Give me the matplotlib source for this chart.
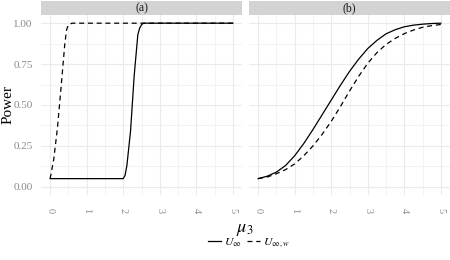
import matplotlib
matplotlib.use("Agg")
import matplotlib.pyplot as plt
from matplotlib.lines import Line2D
from matplotlib.ticker import MultipleLocator, FormatStrFormatter

# panel (a): abrupt jumps
mu_a_solid = [0.0, 2.0, 2.05, 2.1, 2.2, 2.3, 2.4, 2.45, 2.5, 2.55, 5.0]
pow_a_solid = [0.05, 0.05, 0.07, 0.13, 0.34, 0.68, 0.93, 0.97, 0.99, 1.0, 1.0]
mu_a_dash = [0.0, 0.1, 0.2, 0.3, 0.4, 0.45, 0.5, 0.6, 5.0]
pow_a_dash = [0.05, 0.17, 0.36, 0.61, 0.87, 0.96, 0.99, 1.0, 1.0]

# panel (b): smooth power curves
mu_b = [0.0, 0.25, 0.5, 0.75, 1.0, 1.25, 1.5, 1.75, 2.0, 2.25, 2.5,
        2.75, 3.0, 3.25, 3.5, 3.75, 4.0, 4.25, 4.5, 4.75, 5.0]
pow_b_solid = [0.05, 0.065, 0.09, 0.13, 0.19, 0.265, 0.35, 0.44, 0.53, 0.62, 0.705,
               0.78, 0.845, 0.895, 0.935, 0.96, 0.978, 0.988, 0.994, 0.998, 1.0]
pow_b_dash = [0.05, 0.06, 0.08, 0.105, 0.14, 0.19, 0.25, 0.32, 0.40, 0.49, 0.585,
              0.675, 0.755, 0.82, 0.87, 0.907, 0.936, 0.958, 0.975, 0.985, 0.992]

panel_titles = ["(a)", "(b)"]
legend_labels = [r"$U_\infty$", r"$U_{\infty,w}$"]

plt.rcParams["font.family"] = ["Liberation Serif", "DejaVu Serif"]
plt.rcParams["mathtext.fontset"] = "stix"

W, H = 450, 260
fig = plt.figure(figsize=(4.5, 2.6), dpi=100)

panels = [(41, 242), (249, 450)]
top_px, bot_px = 15, 195
tick_grey = "#8a8a8a"
grid_c = "#ebebeb"
dash_style = (0, (4, 3))

data = [
    ((mu_a_solid, pow_a_solid), (mu_a_dash, pow_a_dash)),
    ((mu_b, pow_b_solid), (mu_b, pow_b_dash)),
]

for i, ((x0, x1), title) in enumerate(zip(panels, panel_titles)):
    ax = fig.add_axes([x0 / W, 1 - bot_px / H, (x1 - x0) / W, (bot_px - top_px) / H])
    (xs, ys), (xd, yd) = data[i]
    ax.plot(xs, ys, color="black", lw=0.9)
    ax.plot(xd, yd, color="black", lw=0.9, linestyle=dash_style)

    ax.set_xlim(-0.25, 5.25)
    ax.set_ylim(-0.05, 1.05)
    ax.xaxis.set_major_locator(MultipleLocator(1))
    ax.xaxis.set_minor_locator(MultipleLocator(0.5))
    ax.yaxis.set_major_locator(MultipleLocator(0.25))
    ax.yaxis.set_minor_locator(MultipleLocator(0.125))
    ax.yaxis.set_major_formatter(FormatStrFormatter("%.2f"))
    ax.grid(which="major", color=grid_c, lw=0.8)
    ax.grid(which="minor", color=grid_c, lw=0.4)
    ax.set_axisbelow(True)
    for s in ax.spines.values():
        s.set_visible(False)
    ax.tick_params(which="both", length=0)
    ax.tick_params(axis="x", labelsize=7.5, labelcolor=tick_grey, pad=9, labelrotation=-90)
    ax.tick_params(axis="y", labelsize=8, labelcolor=tick_grey, pad=6)
    if i == 1:
        ax.tick_params(axis="y", labelleft=False)

    # facet strip
    sx = fig.add_axes([x0 / W, 1 - top_px / H, (x1 - x0) / W, (top_px - 1) / H])
    sx.set_facecolor("#d3d3d3")
    sx.set_xticks([])
    sx.set_yticks([])
    for s in sx.spines.values():
        s.set_visible(False)
    sx.text(0.5, 0.5, title, ha="center", va="center", fontsize=8.5, color="#1a1a1a",
            transform=sx.transAxes)

fig.text(8 / W, 1 - 105 / H, "Power", rotation=90, ha="center", va="center", fontsize=11)
fig.text(245 / W, 1 - 229 / H, r"$\mu_3$", ha="center", va="center", fontsize=13)

handles = [Line2D([0], [0], color="black", lw=0.9),
           Line2D([0], [0], color="black", lw=0.9, linestyle=dash_style)]
fig.legend(handles, legend_labels, loc="center", bbox_to_anchor=(249 / W, 1 - 243 / H),
           ncol=2, frameon=False, fontsize=8.5, handlelength=1.1, handletextpad=0.3,
           columnspacing=0.4)

fig.savefig("out.png", dpi=100)
